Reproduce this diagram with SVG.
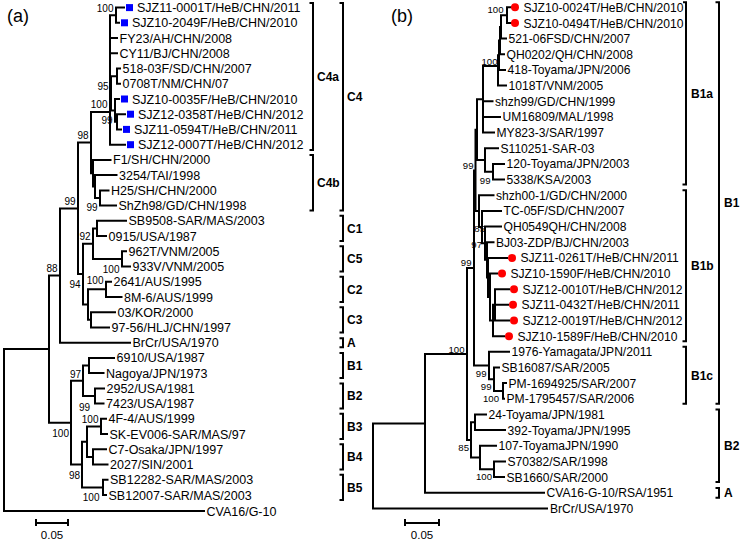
<svg xmlns="http://www.w3.org/2000/svg" width="742" height="551" viewBox="0 0 742 551">
<style>
.br{fill:none;stroke:#000;stroke-width:2;stroke-linecap:square}
.bk{fill:none;stroke:#000;stroke-width:2}
text{font-family:"Liberation Sans",Arial,sans-serif;fill:#000}
.la{font-size:12.5px}
.lb{font-size:12.1px}
.bs{font-size:10px;text-anchor:end}
.bsb{font-size:9.6px;text-anchor:end}
.cl{font-size:12px;font-weight:bold}
.pn{font-size:18px}
.sc{font-size:11.5px;text-anchor:middle}
.sq{fill:#0000ff}
.dt{fill:#ff0000}
</style>
<rect width="742" height="551" fill="#fff"/>
<text class="pn" x="7" y="22">(a)</text>
<text class="pn" x="391" y="22">(b)</text>

<g id="connectors">
<path class="br" d="M4 349.1V511 M4 349.1H49 M4 511H204
M49 275.5V422.7 M49 275.5H60 M49 422.7H71
M60 208.4V342.7 M60 208.4H78 M60 342.7H130
M78 142.6V274.1 M78 142.6H91 M78 274.1H83
M91 112V173.2 M91 112H110 M91 173.2H93
M110 15.2V144.7 M110 15.2H116 M110 38.1H117 M110 53.3H117 M110 93.3H111 M110 144.7H125
M111 76.2V110.4 M111 76.2H117 M111 110.4H115
M117 68.5V83.8 M117 68.5H120 M117 83.8H120
M115 99V121.8 M115 99H119 M115 121.8H117
M117 114.2V129.4 M117 114.2H125 M117 129.4H121
M116 7.6V22.8 M116 7.6H124 M116 22.8H119
M93 159.9V186.6 M93 159.9H110.5 M93 186.6H95
M95 175.1V198 M95 175.1H116.5 M95 198H100
M100 190.4V205.6 M100 190.4H108.5 M100 205.6H116
M83 243.7V304.6 M83 243.7H93 M83 304.6H88
M93 228.4V258.9 M93 228.4H97 M93 258.9H122
M97 220.8V236.1 M97 220.8H126 M97 236.1H106
M122 251.3V266.5 M122 251.3H126 M122 266.5H130
M88 289.3V319.8 M88 289.3H106 M88 319.8H91
M106 281.7V297 M106 281.7H111 M106 297H121.5
M91 312.2V327.4 M91 312.2H115 M91 327.4H109
M71 380.8V464.5 M71 380.8H83 M71 464.5H82
M83 365.5V396 M83 365.5H89 M83 396H95
M89 357.9V373.1 M89 357.9H114 M89 373.1H103.5
M95 388.4V403.6 M95 388.4H104 M95 403.6H103.5
M82 441.7V487.4 M82 441.7H87 M82 487.4H103
M87 426.4V456.9 M87 426.4H101 M87 456.9H93
M101 418.8V434 M101 418.8H106 M101 434H107
M93 449.3V464.5 M93 449.3H106 M93 464.5H107.5
M103 479.7V495 M103 479.7H107.5 M103 495H106"/>
<path class="br" d="M373 423.4V508.4 M373 423.4H425 M373 508.4H547
M425 354V492.8 M425 354H467 M425 492.8H544
M467 268V439.9 M467 268H474 M467 439.9H471
M474 170.4V365.5 M474 170.4H475.5 M474 365.5H489
M475.5 129.7V211.1 M475.5 129.7H477 M475.5 211.1H479
M477 99.3V160 M477 99.3H483 M477 160H485
M483 66V132.6 M483 66H498 M483 101.3H492.5 M483 116.9H500 M483 132.6H494
M498 55.3V85.6 M498 55.3H499 M498 85.6H506
M499 40.6V69.9 M499 40.6H500 M499 69.9H505
M500 26.9V54.3 M500 26.9H501 M500 54.3H504
M501 15.2V38.6 M501 15.2H507 M501 38.6H506
M507 7.3V23 M507 7.3H511 M507 23H511
M485 148.2V171.8 M485 148.2H498 M485 171.8H493
M493 163.9V179.6 M493 163.9H504 M493 179.6H504
M479 195.2V227 M479 195.2H493.5 M479 227H482
M482 210.9V243.2 M482 210.9H501 M482 243.2H485
M485 226.5V259.8 M485 226.5H501 M485 259.8H487
M487 242.2V277.5 M487 242.2H493.5 M487 277.5H488
M488 257.9V297 M488 257.9H507 M488 297H490
M490 273.5V320.5 M490 273.5H497 M490 320.5H493
M493 304.8V336.2 M493 304.8H495 M493 336.2H504
M495 289.2V320.5 M495 289.2H509 M495 304.8H508 M495 320.5H509
M489 351.8V379.2 M489 351.8H509 M489 379.2H494
M494 367.5V391 M494 367.5H499 M494 391H503
M503 383.1V398.8 M503 383.1H506 M503 398.8H504
M471 422.3V457.5 M471 422.3H475 M471 457.5H480
M475 414.5V430.1 M475 414.5H486 M475 430.1H505
M480 445.8V469.3 M480 445.8H496 M480 469.3H494
M494 461.4V477.1 M494 461.4H505 M494 477.1H504"/>
</g>

<g id="bootstrap-a">
<text class="bs" x="113.5" y="11.8">100</text>
<text class="bs" x="108.5" y="89.9">95</text>
<text class="bs" x="107.5" y="108">100</text>
<text class="bs" x="112.5" y="124.3">99</text>
<text class="bs" x="88.5" y="139">98</text>
<text class="bs" x="97.5" y="211">99</text>
<text class="bs" x="75.5" y="205">99</text>
<text class="bs" x="90.5" y="240.3">92</text>
<text class="bs" x="119.5" y="272.5">100</text>
<text class="bs" x="80.5" y="288">94</text>
<text class="bs" x="103.5" y="284">100</text>
<text class="bs" x="57.5" y="272">88</text>
<text class="bs" x="81" y="377.6">97</text>
<text class="bs" x="90" y="410.6">99</text>
<text class="bs" x="98.5" y="422.6">100</text>
<text class="bs" x="69" y="436.6">100</text>
<text class="bs" x="80" y="478.6">98</text>
<text class="bs" x="99.5" y="500.6">100</text>
</g>
<g id="bootstrap-b">
<text class="bsb" x="503.5" y="12.9">100</text>
<text class="bsb" x="497.5" y="64.5">100</text>
<text class="bsb" x="473.5" y="168.6">99</text>
<text class="bsb" x="490.5" y="183.6">99</text>
<text class="bsb" x="485" y="231.6">85</text>
<text class="bsb" x="482" y="247.6">97</text>
<text class="bsb" x="471.5" y="266.3">99</text>
<text class="bsb" x="464.5" y="352.6">100</text>
<text class="bsb" x="486.5" y="377">99</text>
<text class="bsb" x="491.5" y="390.3">99</text>
<text class="bsb" x="499" y="402">100</text>
<text class="bsb" x="469" y="451">85</text>
<text class="bsb" x="492" y="480.3">100</text>
</g>

<g id="leaves-a" class="la">
<g id="a01"><rect class="sq" x="126" y="4.1" width="7" height="7"/><text x="137" y="12.1">SJZ11-0001T/HeB/CHN/2011</text></g>
<g id="a02"><rect class="sq" x="121" y="19.3" width="7" height="7"/><text x="132" y="27.3">SJZ10-2049F/HeB/CHN/2010</text></g>
<g id="a03"><text x="119.5" y="42.6">FY23/AH/CHN/2008</text></g>
<g id="a04"><text x="119.5" y="57.8">CY11/BJ/CHN/2008</text></g>
<g id="a05"><text x="122.5" y="73">518-03F/SD/CHN/2007</text></g>
<g id="a06"><text x="122.5" y="88.3">0708T/NM/CHN/07</text></g>
<g id="a07"><rect class="sq" x="121" y="95.5" width="7" height="7"/><text x="132" y="103.5">SJZ10-0035F/HeB/CHN/2010</text></g>
<g id="a08"><rect class="sq" x="127" y="110.7" width="7" height="7"/><text x="138" y="118.7">SJZ12-0358T/HeB/CHN/2012</text></g>
<g id="a09"><rect class="sq" x="123" y="125.9" width="7" height="7"/><text x="134" y="133.9">SJZ11-0594T/HeB/CHN/2011</text></g>
<g id="a10"><rect class="sq" x="127" y="141.2" width="7" height="7"/><text x="138" y="149.2">SJZ12-0007T/HeB/CHN/2012</text></g>
<g id="a11"><text x="113" y="164.4">F1/SH/CHN/2000</text></g>
<g id="a12"><text x="119" y="179.6">3254/TAI/1998</text></g>
<g id="a13"><text x="111" y="194.9">H25/SH/CHN/2000</text></g>
<g id="a14"><text x="118.5" y="210.1">ShZh98/GD/CHN/1998</text></g>
<g id="a15"><text x="128.5" y="225.3">SB9508-SAR/MAS/2003</text></g>
<g id="a16"><text x="108.5" y="240.6">0915/USA/1987</text></g>
<g id="a17"><text x="128.5" y="255.8">962T/VNM/2005</text></g>
<g id="a18"><text x="132.5" y="271">933V/VNM/2005</text></g>
<g id="a19"><text x="113.5" y="286.2">2641/AUS/1995</text></g>
<g id="a20"><text x="124" y="301.5">8M-6/AUS/1999</text></g>
<g id="a21"><text x="117.5" y="316.7">03/KOR/2000</text></g>
<g id="a22"><text x="111.5" y="331.9">97-56/HLJ/CHN/1997</text></g>
<g id="a23"><text x="132.5" y="347.2">BrCr/USA/1970</text></g>
<g id="a24"><text x="116.5" y="362.4">6910/USA/1987</text></g>
<g id="a25"><text x="106" y="377.6">Nagoya/JPN/1973</text></g>
<g id="a26"><text x="106.5" y="392.9">2952/USA/1981</text></g>
<g id="a27"><text x="106" y="408.1">7423/USA/1987</text></g>
<g id="a28"><text x="108.5" y="423.3">4F-4/AUS/1999</text></g>
<g id="a29"><text x="109.5" y="438.5">SK-EV006-SAR/MAS/97</text></g>
<g id="a30"><text x="108.5" y="453.8">C7-Osaka/JPN/1997</text></g>
<g id="a31"><text x="110" y="469">2027/SIN/2001</text></g>
<g id="a32"><text x="110" y="484.2">SB12282-SAR/MAS/2003</text></g>
<g id="a33"><text x="108.5" y="499.5">SB12007-SAR/MAS/2003</text></g>
<g id="a34"><text x="206.5" y="515.5">CVA16/G-10</text></g>
</g>

<g id="leaves-b" class="lb">
<g id="b01"><circle class="dt" cx="515" cy="7.3" r="4"/><text x="523.5" y="11.8">SJZ10-0024T/HeB/CHN/2010</text></g>
<g id="b02"><circle class="dt" cx="515" cy="23" r="4"/><text x="523.5" y="27.5">SJZ10-0494T/HeB/CHN/2010</text></g>
<g id="b03"><text x="508.5" y="43.1">521-06FSD/CHN/2007</text></g>
<g id="b04"><text x="506.5" y="58.8">QH0202/QH/CHN/2008</text></g>
<g id="b05"><text x="507.5" y="74.4">418-Toyama/JPN/2006</text></g>
<g id="b06"><text x="508.5" y="90.1">1018T/VNM/2005</text></g>
<g id="b07"><text x="495" y="105.8">shzh99/GD/CHN/1999</text></g>
<g id="b08"><text x="502.5" y="121.4">UM16809/MAL/1998</text></g>
<g id="b09"><text x="496.5" y="137.1">MY823-3/SAR/1997</text></g>
<g id="b10"><text x="500.5" y="152.7">S110251-SAR-03</text></g>
<g id="b11"><text x="506.5" y="168.4">120-Toyama/JPN/2003</text></g>
<g id="b12"><text x="506.5" y="184.1">5338/KSA/2003</text></g>
<g id="b13"><text x="496" y="199.7">shzh00-1/GD/CHN/2000</text></g>
<g id="b14"><text x="503.5" y="215.4">TC-05F/SD/CHN/2007</text></g>
<g id="b15"><text x="503.5" y="231">QH0549QH/CHN/2008</text></g>
<g id="b16"><text x="496" y="246.7">BJ03-ZDP/BJ/CHN/2003</text></g>
<g id="b17"><circle class="dt" cx="512" cy="257.9" r="4"/><text x="520.5" y="262.4">SJZ11-0261T/HeB/CHN/2011</text></g>
<g id="b18"><circle class="dt" cx="502" cy="273.5" r="4"/><text x="510.5" y="278">SJZ10-1590F/HeB/CHN/2010</text></g>
<g id="b19"><circle class="dt" cx="514" cy="289.2" r="4"/><text x="522.5" y="293.7">SJZ12-0010T/HeB/CHN/2012</text></g>
<g id="b20"><circle class="dt" cx="513" cy="304.8" r="4"/><text x="521.5" y="309.3">SJZ11-0432T/HeB/CHN/2011</text></g>
<g id="b21"><circle class="dt" cx="514" cy="320.5" r="4"/><text x="522.5" y="325">SJZ12-0019T/HeB/CHN/2012</text></g>
<g id="b22"><circle class="dt" cx="509" cy="336.2" r="4"/><text x="517.5" y="340.7">SJZ10-1589F/HeB/CHN/2010</text></g>
<g id="b23"><text x="511.5" y="356.3">1976-Yamagata/JPN/2011</text></g>
<g id="b24"><text x="501.5" y="372">SB16087/SAR/2005</text></g>
<g id="b25"><text x="508.5" y="387.6">PM-1694925/SAR/2007</text></g>
<g id="b26"><text x="506.5" y="403.3">PM-1795457/SAR/2006</text></g>
<g id="b27"><text x="488.5" y="419">24-Toyama/JPN/1981</text></g>
<g id="b28"><text x="507.5" y="434.6">392-Toyama/JPN/1995</text></g>
<g id="b29"><text x="498.5" y="450.3">107-ToyamaJPN/1990</text></g>
<g id="b30"><text x="507.5" y="465.9">S70382/SAR/1998</text></g>
<g id="b31"><text x="506.5" y="481.6">SB1660/SAR/2000</text></g>
<g id="b32"><text x="546.5" y="497.3">CVA16-G-10/RSA/1951</text></g>
<g id="b33"><text x="550" y="512.9">BrCr/USA/1970</text></g>
</g>

<g id="brackets-a">
<g id="C4a"><path class="bk" d="M309.5 3H313V150H309.5"/><text class="cl" x="317" y="81">C4a</text></g>
<g id="C4b"><path class="bk" d="M309.5 155H313V210.6H309.5"/><text class="cl" x="317" y="187">C4b</text></g>
<g id="C4"><path class="bk" d="M339.5 3H343V210.6H339.5"/><text class="cl" x="347" y="101">C4</text></g>
<g id="C1"><path class="bk" d="M339.5 215.8H343V241H339.5"/><text class="cl" x="347" y="232.5">C1</text></g>
<g id="C5"><path class="bk" d="M339.5 246.3H343V271.5H339.5"/><text class="cl" x="347" y="263">C5</text></g>
<g id="C2"><path class="bk" d="M339.5 276.7H343V302H339.5"/><text class="cl" x="347" y="293.5">C2</text></g>
<g id="C3"><path class="bk" d="M339.5 307.2H343V332.4H339.5"/><text class="cl" x="347" y="324">C3</text></g>
<g id="Aa"><path class="bk" d="M339.5 338.2H343V347.2H339.5"/><text class="cl" x="347" y="347">A</text></g>
<g id="B1a-grp"><path class="bk" d="M339.5 352.9H343V378.1H339.5"/><text class="cl" x="347" y="369.7">B1</text></g>
<g id="B2a"><path class="bk" d="M339.5 383.4H343V408.6H339.5"/><text class="cl" x="347" y="400.2">B2</text></g>
<g id="B3a"><path class="bk" d="M339.5 413.8H343V439H339.5"/><text class="cl" x="347" y="430.6">B3</text></g>
<g id="B4a"><path class="bk" d="M339.5 444.3H343V469.5H339.5"/><text class="cl" x="347" y="461.1">B4</text></g>
<g id="B5a"><path class="bk" d="M339.5 474.7H343V500H339.5"/><text class="cl" x="347" y="491.6">B5</text></g>
</g>
<g id="brackets-b">
<g id="B1a"><path class="bk" d="M683 2.3H686V184.6H682.5"/><text class="cl" x="691" y="97.8">B1a</text></g>
<g id="B1b"><path class="bk" d="M682.5 190.2H686V341.2H682.5"/><text class="cl" x="691" y="270">B1b</text></g>
<g id="B1c"><path class="bk" d="M682.5 346.8H686V403.8H682.5"/><text class="cl" x="691" y="379.6">B1c</text></g>
<g id="B1"><path class="bk" d="M715.5 2.3H719V403.8H715.5"/><text class="cl" x="724" y="207">B1</text></g>
<g id="B2b"><path class="bk" d="M715.5 409.5H719V482.1H715.5"/><text class="cl" x="724" y="450">B2</text></g>
<g id="Ab"><path class="bk" d="M715.5 488H719V497.8H715.5"/><text class="cl" x="724" y="497">A</text></g>
</g>

<g id="scale-a">
<path class="bk" d="M36 523H68 M36 519V526 M68 519V526"/>
<text class="sc" x="52" y="539">0.05</text>
</g>
<g id="scale-b">
<path class="bk" d="M405 523H439 M405 519V526 M439 519V526"/>
<text class="sc" x="422" y="539">0.05</text>
</g>
</svg>
